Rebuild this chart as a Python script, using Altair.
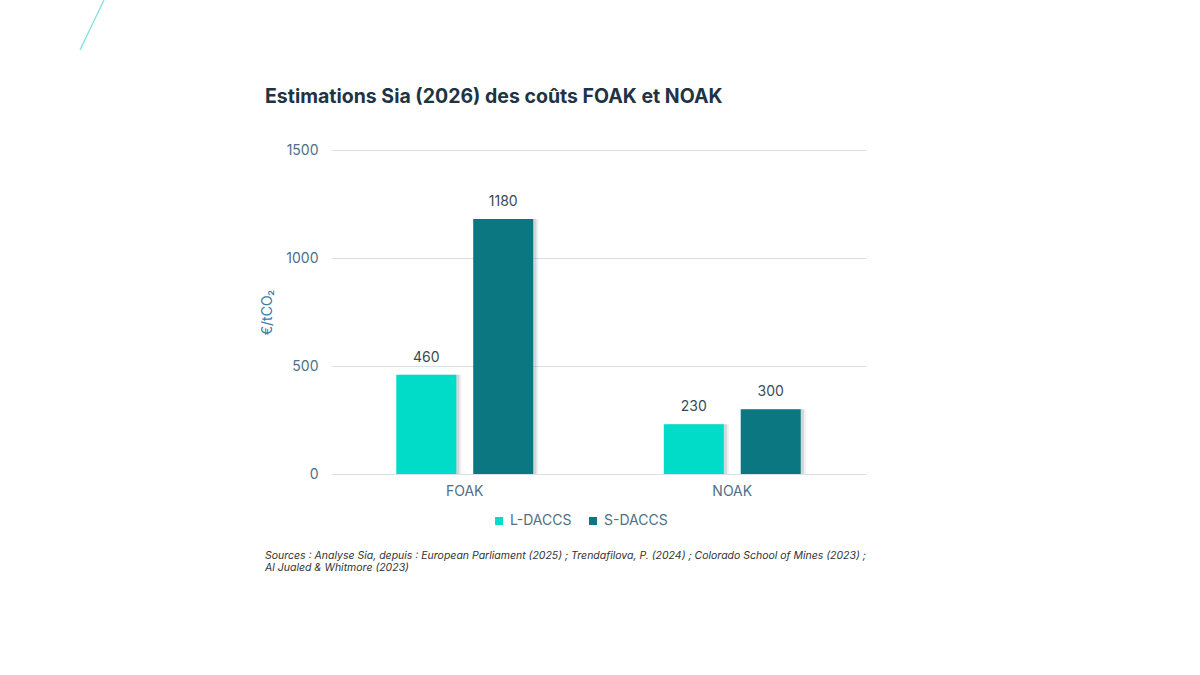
import altair as alt
import pandas as pd

# Cost estimates (EUR per tonne of CO2)
phases = ["FOAK", "NOAK"]
technologies = ["L-DACCS", "S-DACCS"]
l_daccs = [460, 230]
s_daccs = [1180, 300]

colors = ["#00DCC8", "#0B7780"]
font = "Inter"

rows = []
for i, ph in enumerate(phases):
    rows.append({"phase": ph, "tech": technologies[0], "cost": l_daccs[i]})
    rows.append({"phase": ph, "tech": technologies[1], "cost": s_daccs[i]})
df = pd.DataFrame(rows)

title_text = "Estimations Sia (2026) des coûts FOAK et NOAK"
sources = [
    "Sources : Analyse Sia, depuis : European Parliament (2025) ; Trendafilova, P. (2024) ; Colorado School of Mines (2023) ;",
    "Al Jualed & Whitmore (2023)",
]

x_enc = alt.X(
    "phase:N",
    sort=phases,
    scale=alt.Scale(paddingInner=0.488, paddingOuter=0.244),
    axis=alt.Axis(
        title=None, labelAngle=0, domain=False, ticks=False, labelPadding=10,
        labelFont=font, labelFontSize=14, labelColor="#4E6F88", grid=False,
    ),
)
y_enc = alt.Y(
    "cost:Q",
    stack=None,
    scale=alt.Scale(domain=[0, 1500]),
    axis=alt.Axis(
        title="€/tCO₂", values=[0, 500, 1000, 1500], format="d",
        domain=False, ticks=False, labelPadding=13,
        gridColor="#D6E1EA", gridWidth=1.2,
        labelFont=font, labelFontSize=14, labelColor="#4E6F88",
        titleFont=font, titleFontSize=14, titleFontWeight="normal",
        titleColor="#3C7DA6", titlePadding=11,
    ),
)


def offset_enc(rng=None):
    if rng is None:
        sc = alt.Scale(paddingInner=0.22, paddingOuter=0)
    else:
        sc = alt.Scale(paddingInner=0.22, paddingOuter=0, range=rng)
    return alt.XOffset("tech:N", sort=technologies, scale=sc)


base = alt.Chart(df).encode(x=x_enc, y=y_enc)

# soft drop shadow, shifted a few pixels right of each bar
shadow_wide = base.mark_bar(color="#6F7F8A", opacity=0.12).encode(
    xOffset=offset_enc([5, 142]),
)
shadow = base.mark_bar(color="#6F7F8A", opacity=0.22).encode(
    xOffset=offset_enc([3, 140]),
)

bars = base.mark_bar().encode(
    xOffset=offset_enc(),
    color=alt.Color(
        "tech:N", sort=technologies,
        scale=alt.Scale(domain=technologies, range=colors),
        legend=alt.Legend(
            title=None, orient="none", legendX=161, legendY=364,
            direction="horizontal", symbolType="square", symbolSize=64,
            labelFont=font, labelFontSize=14, labelColor="#4E6F88",
            columnPadding=14, labelOffset=4,
        ),
    ),
)

labels = base.mark_text(dy=-10, baseline="bottom", font=font, fontSize=14,
                        color="#3A4A56").encode(
    xOffset=offset_enc(),
    text=alt.Text("cost:Q", format="d"),
)

one = pd.DataFrame({"k": [0]})

deco = alt.Chart(one).mark_rule(color="#7EE3DA", strokeWidth=1.3).encode(
    x=alt.value(-227), y=alt.value(-150), x2=alt.value(-251), y2=alt.value(-100)
)

title = alt.Chart(pd.DataFrame({"t": [title_text]})).mark_text(
    align="left", baseline="alphabetic", font=font, fontSize=19.5,
    fontWeight="bold", color="#1E3444",
).encode(x=alt.value(-66), y=alt.value(-47), text="t:N")

src1 = alt.Chart(pd.DataFrame({"t": [sources[0]]})).mark_text(
    align="left", baseline="alphabetic", font=font, fontSize=10.5,
    fontStyle="italic", color="#333333",
).encode(x=alt.value(-66), y=alt.value(409), text="t:N")

src2 = alt.Chart(pd.DataFrame({"t": [sources[1]]})).mark_text(
    align="left", baseline="alphabetic", font=font, fontSize=10.5,
    fontStyle="italic", color="#333333",
).encode(x=alt.value(-66), y=alt.value(421), text="t:N")

main = alt.layer(bars, labels)

chart = alt.layer(shadow_wide, shadow, main, deco, title, src1, src2).resolve_scale(
    xOffset="independent"
).properties(
    width=535,
    height=324,
    background="white",
    autosize=alt.AutoSizeParams(type="none"),
    padding={"left": 331, "top": 150, "right": 334, "bottom": 201},
).configure_view(strokeWidth=0, stroke="transparent")

chart.save("out.html", embed_options={"renderer": "svg", "actions": False})
